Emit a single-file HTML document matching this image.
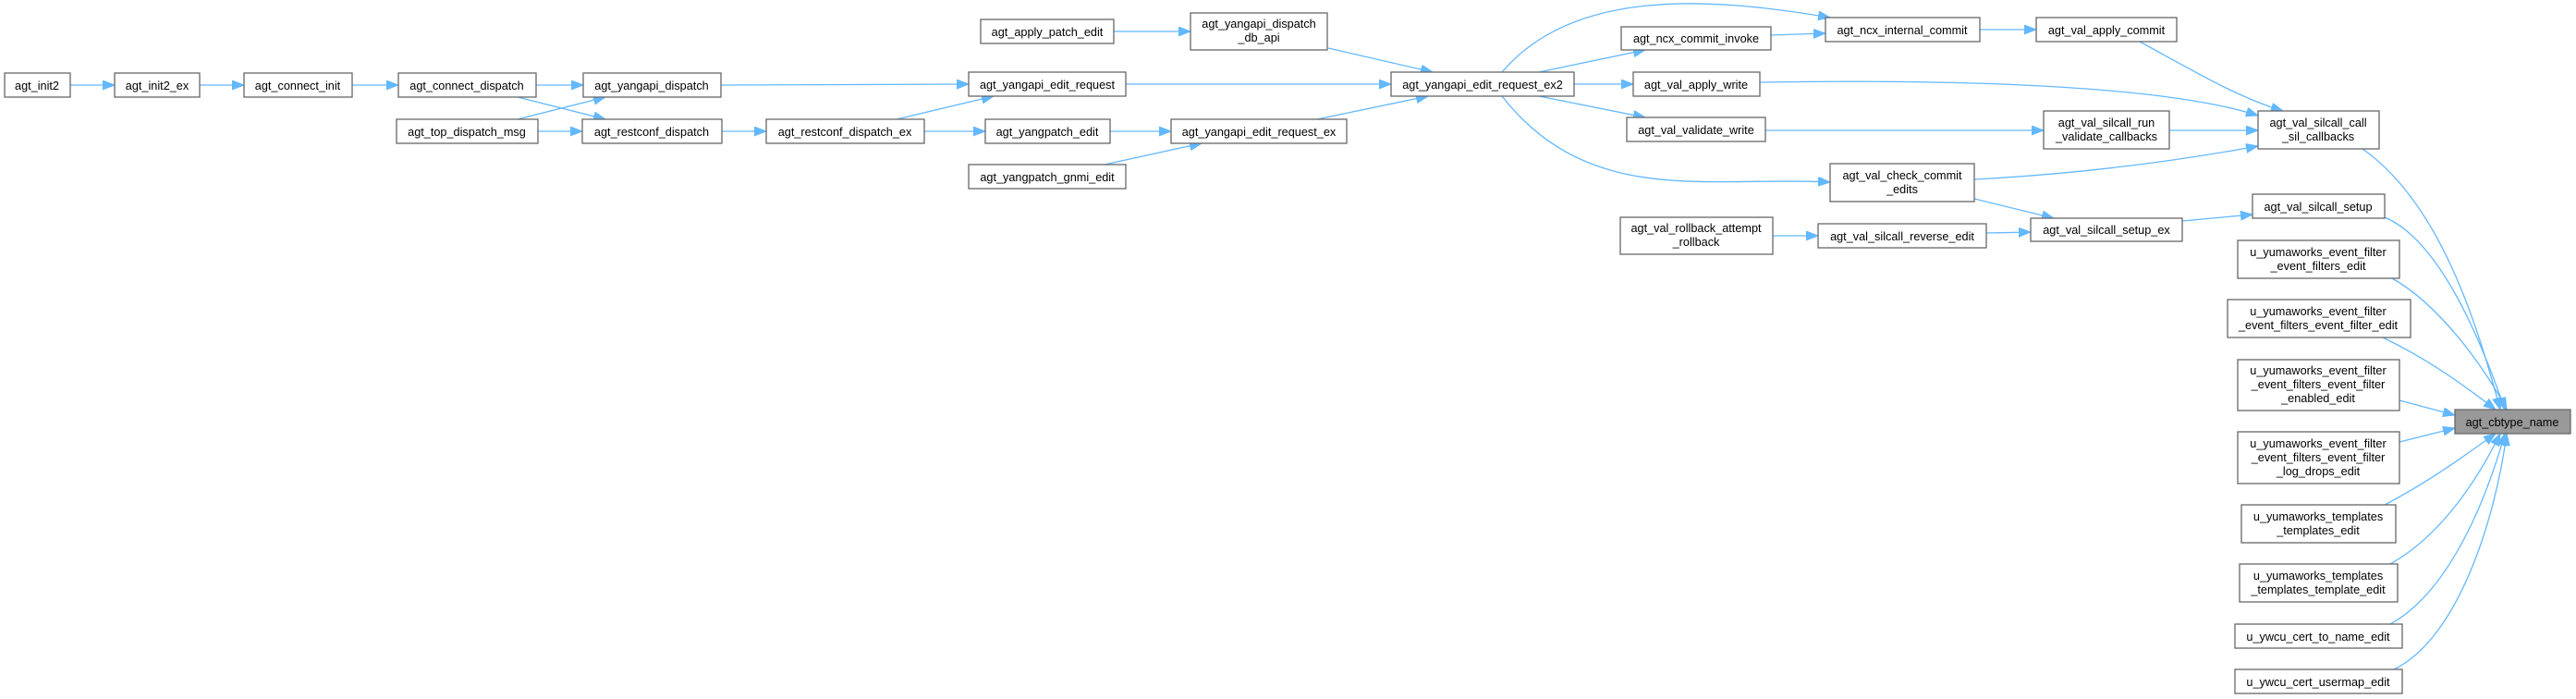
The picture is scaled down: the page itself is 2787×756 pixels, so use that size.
<!DOCTYPE html>
<html><head><meta charset="utf-8"><style>
html,body{margin:0;padding:0;background:#fff;}
svg{display:block;}
text{font-family:"Liberation Sans",Arial,sans-serif;font-size:12.7px;fill:#000;text-anchor:middle;}
.b{fill:#fff;stroke:#666;stroke-width:1.3;}
.e{fill:none;stroke:#63b8ff;stroke-width:1.3;}
</style></head><body>
<svg width="2787" height="756" viewBox="0 0 2787 756" xmlns="http://www.w3.org/2000/svg">
<defs><marker id="a" markerUnits="userSpaceOnUse" markerWidth="14" markerHeight="12" refX="13" refY="5" orient="auto"><path d="M0,0 L13,5 L0,10 z" fill="#63b8ff" stroke="#63b8ff"/></marker></defs>
<g marker-end="url(#a)">
<path class="e" d="M76,92 L124,92"/>
<path class="e" d="M216,92 L264,92"/>
<path class="e" d="M381,92 L431,92"/>
<path class="e" d="M580,92 L631,92"/>
<path class="e" d="M560,105 L655,129"/>
<path class="e" d="M560,129 L655,105"/>
<path class="e" d="M582,142 L630,142"/>
<path class="e" d="M781,142 L829,142"/>
<path class="e" d="M780,92 L1048,91"/>
<path class="e" d="M970,129 L1075,104"/>
<path class="e" d="M1000,142 L1066,142"/>
<path class="e" d="M1205,34 L1288,34"/>
<path class="e" d="M1437,52 L1550,78"/>
<path class="e" d="M1218,91 L1505,91"/>
<path class="e" d="M1201,142 L1267,142"/>
<path class="e" d="M1425,129 L1545,104"/>
<path class="e" d="M1195,178 L1300,155"/>
<path class="e" d="M1625,78 C1700,-10 1840,-5 1980,19"/>
<path class="e" d="M1665,78 L1780,54"/>
<path class="e" d="M1703,91 L1767,91"/>
<path class="e" d="M1665,104 L1780,127"/>
<path class="e" d="M1625,104 C1720,225 1850,190 1980,197"/>
<path class="e" d="M1916,38 L1975,36"/>
<path class="e" d="M2142,32 L2203,32"/>
<path class="e" d="M2315,45 C2370,75 2420,105 2470,120"/>
<path class="e" d="M1904,89 C2150,85 2350,95 2443,125"/>
<path class="e" d="M1910,141 L2211,141"/>
<path class="e" d="M2347,141 L2443,141"/>
<path class="e" d="M2136,194 C2250,188 2350,175 2443,158"/>
<path class="e" d="M2136,215 L2222,236"/>
<path class="e" d="M2149,252 L2197,251"/>
<path class="e" d="M1918,255 L1967,255"/>
<path class="e" d="M2361,239 L2437,232"/>
<path class="e" d="M2556,161 C2640,220 2680,350 2705,443"/>
<path class="e" d="M2580,235 C2640,260 2685,370 2710,443"/>
<path class="e" d="M2588,301 C2640,330 2690,400 2712,443"/>
<path class="e" d="M2578,365 C2630,390 2670,420 2700,443"/>
<path class="e" d="M2596,433 L2656,449"/>
<path class="e" d="M2596,478 L2656,463"/>
<path class="e" d="M2580,546 C2630,520 2670,490 2700,469"/>
<path class="e" d="M2586,610 C2640,580 2680,520 2705,469"/>
<path class="e" d="M2586,675 C2650,640 2690,540 2710,469"/>
<path class="e" d="M2590,724 C2660,690 2700,560 2712,469"/>
</g>
<g>
<rect class="b" x="5" y="79" width="71" height="26"/><text x="40" y="97">agt_init2</text>
<rect class="b" x="124" y="79" width="92" height="26"/><text x="170" y="97">agt_init2_ex</text>
<rect class="b" x="264" y="79" width="117" height="26"/><text x="322" y="97">agt_connect_init</text>
<rect class="b" x="431" y="79" width="149" height="26"/><text x="505" y="97">agt_connect_dispatch</text>
<rect class="b" x="631" y="79" width="149" height="26"/><text x="705" y="97">agt_yangapi_dispatch</text>
<rect class="b" x="429" y="129" width="153" height="26"/><text x="505" y="147">agt_top_dispatch_msg</text>
<rect class="b" x="630" y="129" width="151" height="26"/><text x="705" y="147">agt_restconf_dispatch</text>
<rect class="b" x="829" y="129" width="171" height="26"/><text x="914" y="147">agt_restconf_dispatch_ex</text>
<rect class="b" x="1061" y="21" width="144" height="26"/><text x="1133" y="39">agt_apply_patch_edit</text>
<rect class="b" x="1288" y="14" width="148" height="40"/><text x="1362" y="30">agt_yangapi_dispatch</text><text x="1362" y="45">_db_api</text>
<rect class="b" x="1048" y="78" width="170" height="26"/><text x="1133" y="96">agt_yangapi_edit_request</text>
<rect class="b" x="1505" y="78" width="198" height="26"/><text x="1604" y="96">agt_yangapi_edit_request_ex2</text>
<rect class="b" x="1066" y="129" width="135" height="26"/><text x="1133" y="147">agt_yangpatch_edit</text>
<rect class="b" x="1267" y="129" width="190" height="26"/><text x="1362" y="147">agt_yangapi_edit_request_ex</text>
<rect class="b" x="1048" y="178" width="170" height="26"/><text x="1133" y="196">agt_yangpatch_gnmi_edit</text>
<rect class="b" x="1754" y="29" width="162" height="25"/><text x="1835" y="46">agt_ncx_commit_invoke</text>
<rect class="b" x="1767" y="78" width="137" height="26"/><text x="1835" y="96">agt_val_apply_write</text>
<rect class="b" x="1760" y="127" width="150" height="26"/><text x="1835" y="145">agt_val_validate_write</text>
<rect class="b" x="1753" y="235" width="165" height="40"/><text x="1835" y="251">agt_val_rollback_attempt</text><text x="1835" y="266">_rollback</text>
<rect class="b" x="1975" y="19" width="167" height="26"/><text x="2058" y="37">agt_ncx_internal_commit</text>
<rect class="b" x="1980" y="177" width="156" height="41"/><text x="2058" y="194">agt_val_check_commit</text><text x="2058" y="209">_edits</text>
<rect class="b" x="1967" y="242" width="182" height="26"/><text x="2058" y="260">agt_val_silcall_reverse_edit</text>
<rect class="b" x="2203" y="19" width="152" height="26"/><text x="2279" y="37">agt_val_apply_commit</text>
<rect class="b" x="2211" y="120" width="136" height="41"/><text x="2279" y="137">agt_val_silcall_run</text><text x="2279" y="152">_validate_callbacks</text>
<rect class="b" x="2443" y="120" width="131" height="41"/><text x="2508" y="137">agt_val_silcall_call</text><text x="2508" y="152">_sil_callbacks</text>
<rect class="b" x="2437" y="210" width="143" height="26"/><text x="2508" y="228">agt_val_silcall_setup</text>
<rect class="b" x="2197" y="236" width="164" height="25"/><text x="2279" y="253">agt_val_silcall_setup_ex</text>
<rect class="b" x="2421" y="260" width="175" height="41"/><text x="2508" y="277">u_yumaworks_event_filter</text><text x="2508" y="292">_event_filters_edit</text>
<rect class="b" x="2410" y="324" width="198" height="41"/><text x="2508" y="341">u_yumaworks_event_filter</text><text x="2508" y="356">_event_filters_event_filter_edit</text>
<rect class="b" x="2421" y="389" width="175" height="55"/><text x="2508" y="405">u_yumaworks_event_filter</text><text x="2508" y="420">_event_filters_event_filter</text><text x="2508" y="435">_enabled_edit</text>
<rect x="2656" y="443" width="125" height="26" fill="#999" stroke="#666" stroke-width="1.3"/><text x="2718" y="461">agt_cbtype_name</text>
<rect class="b" x="2421" y="467" width="175" height="56"/><text x="2508" y="484">u_yumaworks_event_filter</text><text x="2508" y="499">_event_filters_event_filter</text><text x="2508" y="514">_log_drops_edit</text>
<rect class="b" x="2425" y="546" width="167" height="41"/><text x="2508" y="563">u_yumaworks_templates</text><text x="2508" y="578">_templates_edit</text>
<rect class="b" x="2423" y="610" width="171" height="41"/><text x="2508" y="627">u_yumaworks_templates</text><text x="2508" y="642">_templates_template_edit</text>
<rect class="b" x="2418" y="675" width="181" height="26"/><text x="2508" y="693">u_ywcu_cert_to_name_edit</text>
<rect class="b" x="2418" y="724" width="181" height="26"/><text x="2508" y="742">u_ywcu_cert_usermap_edit</text>
</g>
</svg>
</body></html>
